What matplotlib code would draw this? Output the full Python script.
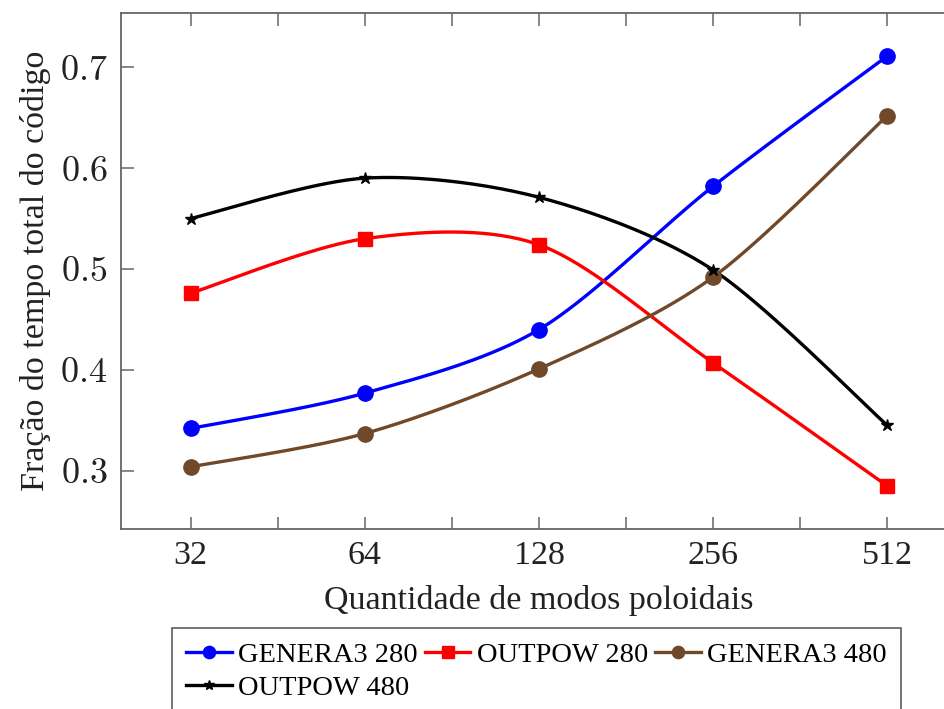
"""Fração do tempo total do código vs quantidade de modos poloidais (pgfplots-style)."""
import numpy as np
import matplotlib
matplotlib.use("Agg")
import matplotlib.pyplot as plt
from matplotlib.ticker import FixedLocator, FixedFormatter, NullFormatter

plt.rcParams["font.family"] = ["Liberation Serif", "DejaVu Serif"]
plt.rcParams["mathtext.fontset"] = "cm"

# data
modos = [32, 64, 128, 256, 512]
genera3_280 = [0.342, 0.377, 0.440, 0.582, 0.711]
outpow_280 = [0.476, 0.530, 0.524, 0.407, 0.285]
genera3_480 = [0.304, 0.337, 0.401, 0.492, 0.652]
outpow_480 = [0.550, 0.590, 0.571, 0.499, 0.345]
labels = ["GENERA3 280", "OUTPOW 280", "GENERA3 480", "OUTPOW 480"]

series = [
    (genera3_280, "#0000FF", "o", 11),
    (outpow_280, "#FF0000", "s", 10),
    (genera3_480, "#70492A", "o", 11),
    (outpow_480, "#000000", "*", 9),
]

W, H = 944, 709
fig = plt.figure(figsize=(W / 100, H / 100), dpi=100)
# axes runs slightly past the right edge, as in the cropped original
ax_l, ax_r, ax_t, ax_b = 121, 957, 13, 529
ax = fig.add_axes([ax_l / W, 1 - ax_b / H, (ax_r - ax_l) / W, (ax_b - ax_t) / H])

ax.set_xscale("log", base=2)
lx = np.log2(modos)
allv = np.concatenate([genera3_280, outpow_280, genera3_480, outpow_480])
pad_x = 0.1 * (lx.max() - lx.min())
pad_y = 0.1 * (allv.max() - allv.min())
xlo, xhi = lx.min() - pad_x, lx.max() + pad_x
ylo, yhi = allv.min() - pad_y, allv.max() + pad_y
ax.set_xlim(2 ** xlo, 2 ** xhi)
ax.set_ylim(ylo, yhi)

px_w, px_h = ax_r - ax_l, ax_b - ax_t


def smooth(xs, ys, f=0.15, n=40):
    # tikz-like smooth curve, built in pixel space
    u = (np.log2(xs) - xlo) / (xhi - xlo) * px_w
    v = (np.asarray(ys) - ylo) / (yhi - ylo) * px_h
    P = np.column_stack([u, v])
    out = [P[0]]
    for i in range(len(P) - 1):
        p0, p1 = P[i], P[i + 1]
        pm = P[i - 1] if i > 0 else P[i]
        pn = P[i + 2] if i + 2 < len(P) else P[i + 1]
        c1 = p0 + f * (p1 - pm)
        c2 = p1 - f * (pn - p0)
        t = np.linspace(0, 1, n)[1:, None]
        seg = ((1 - t) ** 3 * p0 + 3 * (1 - t) ** 2 * t * c1
               + 3 * (1 - t) * t ** 2 * c2 + t ** 3 * p1)
        out.extend(seg)
    out = np.array(out)
    return 2 ** (out[:, 0] / px_w * (xhi - xlo) + xlo), out[:, 1] / px_h * (yhi - ylo) + ylo


handles = []
for (vals, color, mk, ms), lab in zip(series, labels):
    sx, sy = smooth(modos, vals)
    ax.plot(sx, sy, color=color, lw=2.4, zorder=2)
    ax.plot(modos, vals, ls="none", marker=mk, ms=ms, color=color, zorder=3)
    h, = ax.plot([], [], color=color, lw=2.4, marker=mk, ms=ms * 0.8)
    handles.append(h)

spine_c = "#666666"
for s in ax.spines.values():
    s.set_color(spine_c)
    s.set_linewidth(1.3)

ax.xaxis.set_major_locator(FixedLocator(modos))
ax.xaxis.set_major_formatter(FixedFormatter([str(m) for m in modos]))
mids = [2 ** (v + 0.5) for v in lx[:-1]]
ax.xaxis.set_minor_locator(FixedLocator(mids))
ax.xaxis.set_minor_formatter(NullFormatter())
yt = [0.3, 0.4, 0.5, 0.6, 0.7]
ax.yaxis.set_major_locator(FixedLocator(yt))
ax.yaxis.set_major_formatter(FixedFormatter([f"${v:.1f}$" for v in yt]))
ax.yaxis.set_minor_locator(FixedLocator([]))

ax.tick_params(which="both", direction="in", top=True, right=True,
               color=spine_c, width=1.1, length=9, labelcolor="#222222")
ax.tick_params(axis="x", labelsize=24.5, pad=8)
ax.tick_params(axis="y", labelsize=26, pad=10)

ax.set_xlabel("Quantidade de modos poloidais", fontsize=24.5, color="#222222", labelpad=10)
ax.set_ylabel("Fração do tempo total do código", fontsize=24.5, color="#222222", labelpad=6)

order = [0, 3, 1, 2]
leg = fig.legend([handles[i] for i in order], [labels[i] for i in order],
                 loc="upper left", bbox_to_anchor=(172 / W, 1 - 628 / H),
                 ncol=3, fontsize=20.5, frameon=True, fancybox=False,
                 handlelength=1.6, handletextpad=0.22, columnspacing=0.25,
                 labelspacing=0.25, borderpad=0.5, borderaxespad=0)
leg.get_frame().set_edgecolor("#333333")
leg.get_frame().set_linewidth(1.2)

fig.savefig("out.png", dpi=100)
